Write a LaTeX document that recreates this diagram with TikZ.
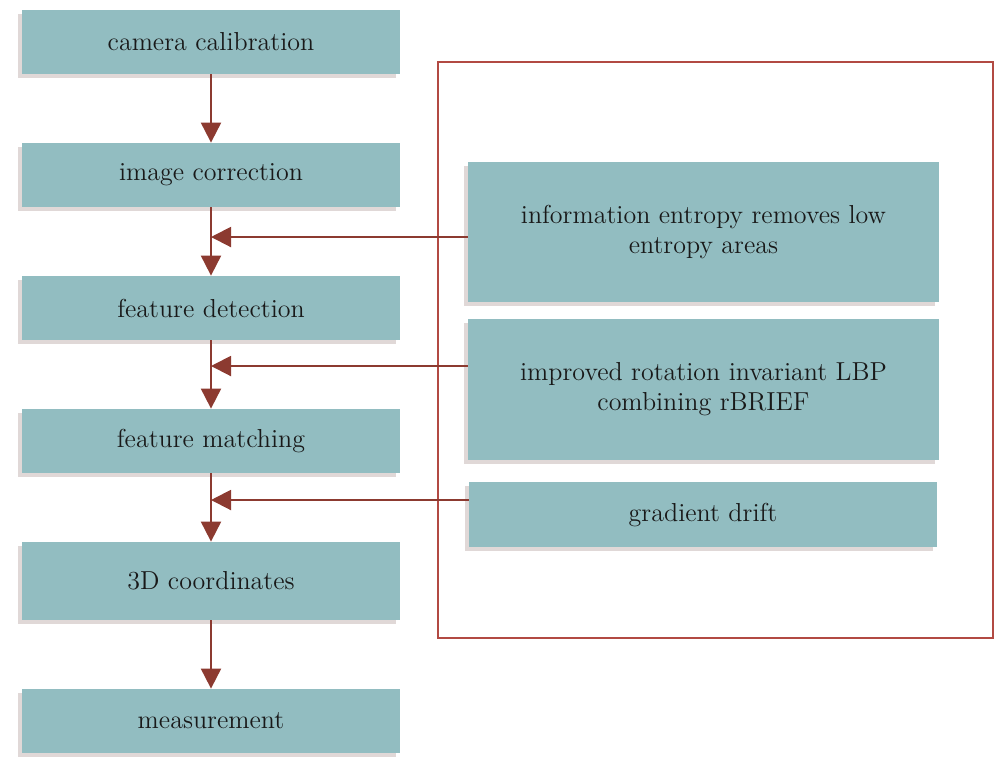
\documentclass[tikz,border=0pt]{standalone}
\usetikzlibrary{arrows.meta,shadows}
\definecolor{boxfill}{HTML}{92BDC1}
\definecolor{arrowred}{HTML}{8C3A30}
\definecolor{framered}{HTML}{B24A43}
\begin{document}
\begin{tikzpicture}[x=0.5pt,y=-0.5pt,
	stage/.style={fill=boxfill,inner sep=0pt,text=black!90,align=center,font=\fontsize{13}{15}\selectfont,drop shadow={shadow xshift=-2pt,shadow yshift=-2pt,fill=arrowred!40!gray,opacity=0.25}},
	flow/.style={draw=arrowred,line width=1pt,-{Triangle[length=10pt,width=10pt]}}]
	\useasboundingbox (0,0) rectangle (1000,773);
	\draw[framered,line width=0.8pt] (438,62) rectangle (993,638);
	\node[stage,minimum width=189pt,minimum height=32pt] (cam) at (211,42) {camera calibration};
	\node[stage,minimum width=189pt,minimum height=32pt] (corr) at (211,175) {image correction};
	\node[stage,minimum width=189pt,minimum height=32pt] (det) at (211,308) {feature detection};
	\node[stage,minimum width=189pt,minimum height=32pt] (match) at (211,441) {feature matching};
	\node[stage,minimum width=189pt,minimum height=39pt] (coord) at (211,581) {3D coordinates};
	\node[stage,minimum width=189pt,minimum height=32pt] (meas) at (211,721) {measurement};
	\node[stage,minimum width=235.5pt,minimum height=70pt] (entropy) at (703.5,232) {information entropy removes low\\ entropy areas};
	\node[stage,minimum width=235.5pt,minimum height=70.5pt] (lbp) at (703.5,389.5) {improved rotation invariant LBP\\ combining rBRIEF};
	\node[stage,minimum width=234pt,minimum height=32.5pt] (drift) at (703,514.5) {gradient drift};
	\coordinate (j1) at (211,237);
	\coordinate (j2) at (211,366);
	\coordinate (j3) at (211,500);
	\draw[flow] (cam) -- (corr);
	\draw[flow] (corr) -- (det);
	\draw[flow] (det) -- (match);
	\draw[flow] (match) -- (coord);
	\draw[flow] (coord) -- (meas);
	\draw[flow] (entropy.west |- j1) -- (j1);
	\draw[flow] (lbp.west |- j2) -- (j2);
	\draw[flow] (drift.west |- j3) -- (j3);
\end{tikzpicture}
\end{document}
